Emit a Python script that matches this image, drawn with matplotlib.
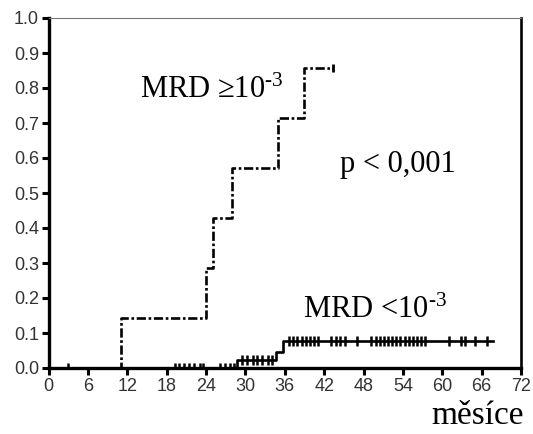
import matplotlib
matplotlib.use('Agg')
import matplotlib.pyplot as plt

plt.rcParams['mathtext.fontset'] = 'custom'
plt.rcParams['mathtext.rm'] = 'Liberation Serif'

# MRD >= 10^-3 (step curve)
hi_x = [0, 11, 24, 25, 28, 35, 39, 43.3]
hi_y = [0, 0.143, 0.286, 0.429, 0.571, 0.714, 0.857, 0.857]
hi_cens_x = [43.3]
hi_cens_y = [0.857]

# MRD < 10^-3 (step curve)
lo_x = [0, 28.7, 34.7, 35.7, 67.7]
lo_y = [0, 0.022, 0.046, 0.076, 0.076]
lo_cens_x = [2.9, 19.2, 19.9, 20.7, 21.4, 22.2, 23.0, 23.5, 26.1, 26.9, 27.7, 28.3,
             29.5, 30.3, 31.1, 31.8, 32.6, 33.4, 34.1,
             36.7, 37.3, 37.9, 38.6, 39.2, 39.8, 40.4, 41.1, 43.1, 43.8, 44.4, 45.1,
             47.0, 49.2, 49.9, 50.5, 51.1, 51.7, 52.4, 53.0, 53.6, 54.3, 54.9, 55.6,
             56.2, 56.8, 57.3, 61.0, 62.9, 63.4, 65.0, 66.8]
lo_cens_y = [0]*12 + [0.022]*7 + [0.076]*32

xticks = list(range(0, 73, 6))
yticks = [i/10 for i in range(11)]

fig = plt.figure(figsize=(5.33, 4.34), dpi=100)
ax = fig.add_axes([48.6/533, 66/434, 472.4/533, 350/434])

ax.step(hi_x, hi_y, where='post', color='black', lw=1.9,
        linestyle=(0, (3.5, 1, 1, 1)))
ax.plot(hi_cens_x, hi_cens_y, ls='none', marker='|', ms=6, mew=2, color='black')
ax.step(lo_x, lo_y, where='post', color='black', lw=1.9)
ax.plot(lo_cens_x, lo_cens_y, ls='none', marker='|', ms=7, mew=1.8, color='black')

ax.set_xlim(0, 72)
ax.set_ylim(0, 1.0)
ax.set_xticks(xticks)
ax.set_yticks(yticks)
ax.set_yticklabels([f'{v:.1f}' for v in yticks])
ax.tick_params(direction='out', length=5, width=2.2, labelsize=13,
               labelcolor='#333333', pad=2)
for lab in ax.get_xticklabels() + ax.get_yticklabels():
    lab.set_family('Liberation Sans')

ax.spines['left'].set_linewidth(2.4)
ax.spines['bottom'].set_linewidth(2.4)
ax.spines['right'].set_linewidth(1.9)
ax.spines['top'].set_linewidth(0.8)
ax.spines['top'].set_color('#777777')

tfont = dict(family='Liberation Serif', fontsize=22, color='black')
ax.text(13.9, 0.772, 'MRD \u226510$\\mathregular{^{\u2010 3}}$', **tfont)
ax.text(44.4, 0.561, 'p < 0,001', **tfont)
ax.text(38.8, 0.144, 'MRD <10$\\mathregular{^{\u2010 3}}$', **tfont)
fig.text(0.983, 0.022, 'měsíce', ha='right', va='baseline',
         family='Liberation Serif', fontsize=24, color='black')

fig.savefig('out.png', dpi=100)
